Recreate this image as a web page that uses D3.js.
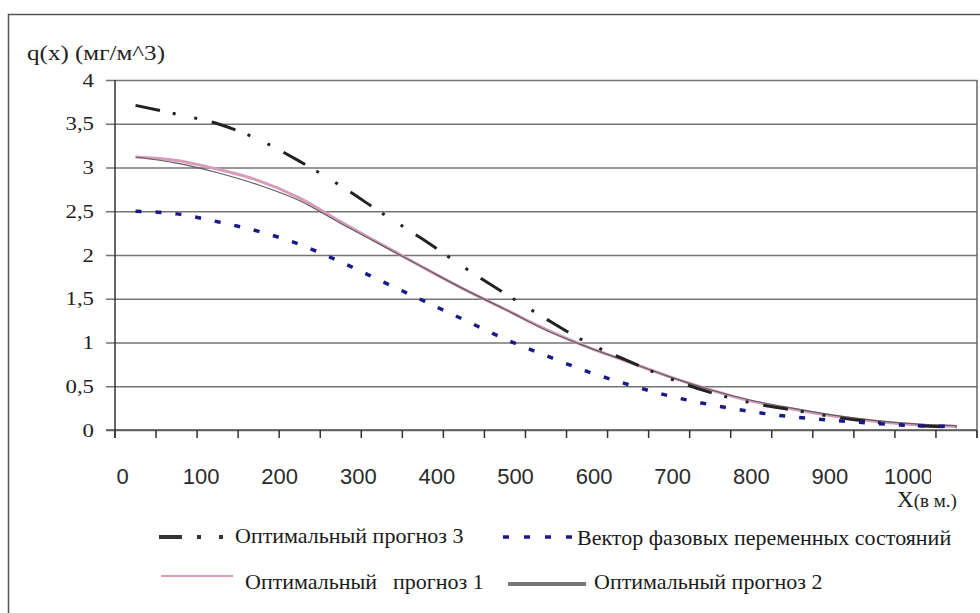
<!DOCTYPE html>
<html>
<head>
<meta charset="utf-8">
<script src="https://cdn.jsdelivr.net/npm/d3@7"></script>
<style>
  body { margin: 0; background: #fff; }
  svg { display: block; }
  .serif { font-family: "Liberation Serif", "Times New Roman", "DejaVu Serif", serif; }
  .sans { font-family: "Liberation Sans", Arial, sans-serif; }
</style>
</head>
<body>
<div id="chart"></div>
<script>
// rows of the source table (one point per row)
var points = [1, 2, 3, 4, 5, 6, 7, 8, 9, 10, 11, 12, 13, 14, 15, 16, 17, 18, 19, 20, 21];

// q(x), mg/m^3
var prognoz3 = [3.71, 3.61, 3.50, 3.32, 3.07, 2.79, 2.48, 2.18, 1.86, 1.56, 1.27, 1.00, 0.79, 0.59, 0.43, 0.31, 0.23, 0.15, 0.09, 0.05, 0.035];
var vektor   = [2.50, 2.47, 2.38, 2.27, 2.12, 1.92, 1.70, 1.48, 1.26, 1.04, 0.85, 0.67, 0.52, 0.39, 0.29, 0.21, 0.15, 0.11, 0.075, 0.05, 0.04];
var prognoz1 = [3.12, 3.08, 2.98, 2.85, 2.65, 2.38, 2.12, 1.86, 1.61, 1.38, 1.15, 0.95, 0.78, 0.61, 0.46, 0.33, 0.24, 0.16, 0.10, 0.06, 0.04];
var prognoz2 = [3.12, 3.05, 2.94, 2.80, 2.62, 2.36, 2.11, 1.86, 1.61, 1.38, 1.14, 0.95, 0.78, 0.61, 0.46, 0.34, 0.25, 0.17, 0.11, 0.07, 0.05];

var yTicks = [0, 0.5, 1, 1.5, 2, 2.5, 3, 3.5, 4];
var xLabels = [0, 100, 200, 300, 400, 500, 600, 700, 800, 900, 1000];

const width = 980, height = 613;

var svg = d3.select("#chart")
    .append("svg")
        .attr("width", width)
        .attr("height", height);

// outer frame
svg.append("rect")
    .attr("x", 8.5).attr("y", 14.5)
    .attr("width", 1000).attr("height", 700)
    .attr("fill", "none")
    .attr("stroke", "#555")
    .attr("stroke-width", 1.5);

var x = d3.scaleBand().domain(points).range([115, 977]);
var xLab = d3.scaleLinear().domain([0, 1000]).range([122, 908]);
var y = d3.scaleLinear().domain([0, 4]).range([430, 80]);

// gridlines + y labels
var yAxis = d3.axisLeft(y)
    .tickValues(yTicks)
    .tickSize(-(x.range()[1] - 106))
    .tickPadding(12)
    .tickFormat(d => String(d).replace(".", ","));

var gy = svg.append("g")
    .attr("transform", "translate(106,0)")
    .call(yAxis)
    .attr("font-family", null)
    .attr("font-size", null);
gy.select(".domain").remove();
gy.selectAll("line")
    .attr("stroke", "#747474")
    .attr("stroke-width", 1.6);
gy.selectAll("text")
    .attr("class", "serif")
    .style("font-size", "19px")
    .attr("fill", "#222")
    .each(function() {
        var w = this.getComputedTextLength();
        d3.select(this).attr("textLength", w * 1.2).attr("lengthAdjust", "spacingAndGlyphs");
    });

// zero line a bit darker
svg.append("line")
    .attr("x1", 106).attr("x2", x.range()[1])
    .attr("y1", y(0)).attr("y2", y(0))
    .attr("stroke", "#555").attr("stroke-width", 1.6);

// y axis line and right border of the plot
svg.append("line")
    .attr("x1", x.range()[0]).attr("x2", x.range()[0])
    .attr("y1", y(4)).attr("y2", y(0) + 8)
    .attr("stroke", "#333").attr("stroke-width", 1.5);
svg.append("line")
    .attr("x1", x.range()[1]).attr("x2", x.range()[1])
    .attr("y1", y(4)).attr("y2", y(0) + 8)
    .attr("stroke", "#666").attr("stroke-width", 1.5);

// category ticks at band edges
var edges = points.map(p => x(p)).concat([x.range()[1]]);
svg.append("g").selectAll("line")
    .data(edges)
    .enter().append("line")
        .attr("x1", d => d).attr("x2", d => d)
        .attr("y1", y(0)).attr("y2", y(0) + 8)
        .attr("stroke", "#333")
        .attr("stroke-width", 1.5);

// x labels (the last one is cut in the source)
svg.append("clipPath").attr("id", "xclip")
    .append("rect").attr("x", 0).attr("y", 0).attr("width", 931).attr("height", height);

var gx = svg.append("g")
    .attr("transform", `translate(0,${y(0)})`)
    .attr("clip-path", "url(#xclip)")
    .call(d3.axisBottom(xLab).tickValues(xLabels).tickSize(0).tickPadding(38).tickFormat(d3.format("d")))
    .attr("font-family", null)
    .attr("font-size", null);
gx.select(".domain").remove();
gx.selectAll("text")
    .attr("class", "sans")
    .style("font-size", "22px")
    .attr("fill", "#2a2a2a");

// axis titles
svg.append("text")
    .attr("class", "serif")
    .attr("x", 27).attr("y", 60)
    .attr("textLength", 138).attr("lengthAdjust", "spacingAndGlyphs")
    .style("font-size", "20px")
    .attr("fill", "#222")
    .text("q(x) (мг/м^3)");

var xt = svg.append("text")
    .attr("class", "serif")
    .attr("x", 897).attr("y", 507)
    .attr("fill", "#222");
xt.append("tspan").style("font-size", "23px").text("X");
xt.append("tspan").style("font-size", "19px").text("(в м.)");

// lines
var line = d3.line()
    .x((d, i) => x(points[i]) + x.bandwidth() / 2)
    .y(d => y(d))
    .curve(d3.curveMonotoneX);

svg.append("path").datum(prognoz1)
    .attr("d", line)
    .attr("fill", "none")
    .attr("stroke", "#d79bbb")
    .attr("stroke-width", 3);

svg.append("path").datum(prognoz2)
    .attr("d", line)
    .attr("fill", "none")
    .attr("stroke", "#5e5e5e")
    .attr("stroke-width", 1.2);

svg.append("path").datum(prognoz3)
    .attr("d", line)
    .attr("fill", "none")
    .attr("stroke", "#222")
    .attr("stroke-width", 3)
    .attr("stroke-dasharray", "25 13 3 19 3 15");

svg.append("path").datum(vektor)
    .attr("d", line)
    .attr("fill", "none")
    .attr("stroke", "#1a1a86")
    .attr("stroke-width", 3.5)
    .attr("stroke-dasharray", "6 14");

// legend
function legendText(txt, lx, ly) {
    svg.append("text")
        .attr("class", "serif")
        .attr("x", lx).attr("y", ly)
        .style("font-size", "22px")
        .attr("fill", "#1a1a1a")
        .text(txt);
}

svg.append("line")
    .attr("x1", 159).attr("x2", 225).attr("y1", 537).attr("y2", 537)
    .attr("stroke", "#333").attr("stroke-width", 4)
    .attr("stroke-dasharray", "23 15 4 18 4 20");
legendText("Оптимальный прогноз 3", 235, 543);

svg.append("line")
    .attr("x1", 503).attr("x2", 572).attr("y1", 537).attr("y2", 537)
    .attr("stroke", "#1a1a86").attr("stroke-width", 3.5)
    .attr("stroke-dasharray", "6 15");
legendText("Вектор фазовых переменных состояний", 577, 545);

svg.append("line")
    .attr("x1", 161).attr("x2", 233).attr("y1", 576).attr("y2", 576)
    .attr("stroke", "#d79bbb").attr("stroke-width", 2);
legendText("Оптимальный", 245, 589);
legendText("прогноз 1", 393, 589);

svg.append("line")
    .attr("x1", 508).attr("x2", 586).attr("y1", 584).attr("y2", 584)
    .attr("stroke", "#777").attr("stroke-width", 4);
legendText("Оптимальный прогноз 2", 594, 589);
</script>
</body>
</html>
